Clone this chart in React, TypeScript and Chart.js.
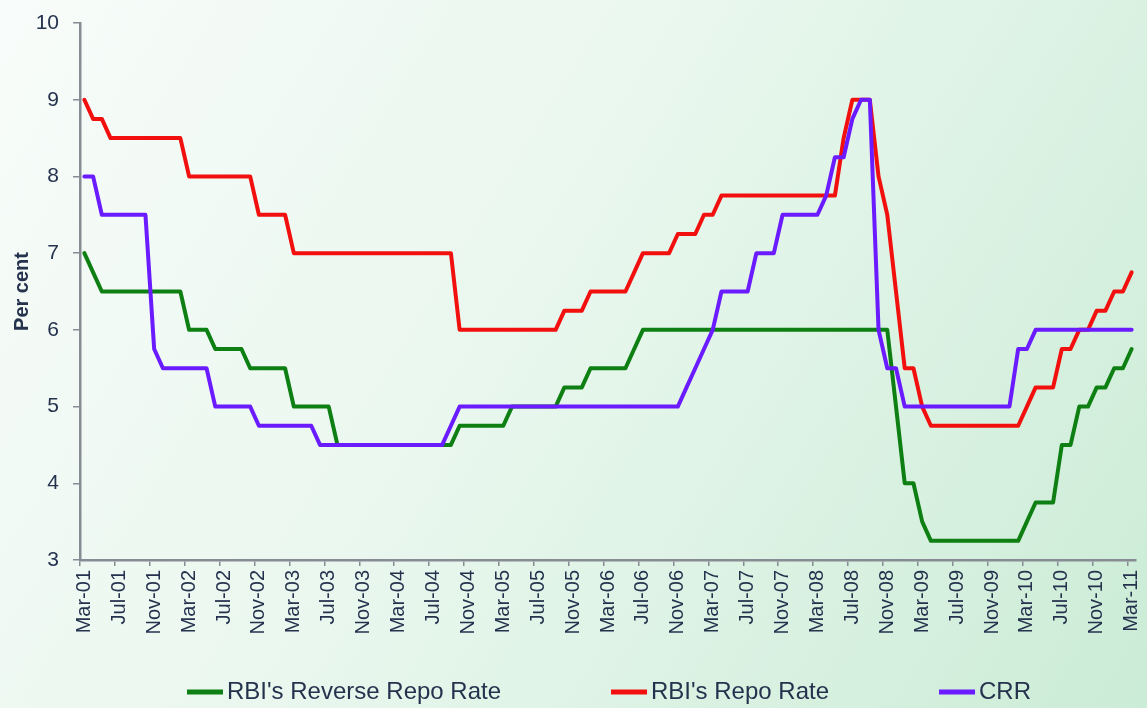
import { useEffect, useRef } from "react";
import { Chart, registerables } from "chart.js";

Chart.register(...registerables);

// Month categories, March 2001 to March 2011
const MONTHS = ["Mar", "Apr", "May", "Jun", "Jul", "Aug", "Sep", "Oct", "Nov", "Dec", "Jan", "Feb"];
const FIRST_YEAR = 2001;
const MONTH_COUNT = 121;
const LABELS: string[] = [];
for (let i = 0; i < MONTH_COUNT; i++) {
  const m = i % 12;
  const yr = FIRST_YEAR + Math.floor(i / 12) + (m >= 10 ? 1 : 0);
  LABELS.push(`${MONTHS[m]}-${String(yr % 100).padStart(2, "0")}`);
}

// Monthly policy rates, per cent (each row runs Mar..Feb)
const REVERSE_REPO = [
  7.0, 6.75, 6.5, 6.5, 6.5, 6.5, 6.5, 6.5, 6.5, 6.5, 6.5, 6.5,
  6.0, 6.0, 6.0, 5.75, 5.75, 5.75, 5.75, 5.5, 5.5, 5.5, 5.5, 5.5,
  5.0, 5.0, 5.0, 5.0, 5.0, 4.5, 4.5, 4.5, 4.5, 4.5, 4.5, 4.5,
  4.5, 4.5, 4.5, 4.5, 4.5, 4.5, 4.5, 4.75, 4.75, 4.75, 4.75, 4.75,
  4.75, 5.0, 5.0, 5.0, 5.0, 5.0, 5.0, 5.25, 5.25, 5.25, 5.5, 5.5,
  5.5, 5.5, 5.5, 5.75, 6.0, 6.0, 6.0, 6.0, 6.0, 6.0, 6.0, 6.0,
  6.0, 6.0, 6.0, 6.0, 6.0, 6.0, 6.0, 6.0, 6.0, 6.0, 6.0, 6.0,
  6.0, 6.0, 6.0, 6.0, 6.0, 6.0, 6.0, 6.0, 6.0, 5.0, 4.0, 4.0,
  3.5, 3.25, 3.25, 3.25, 3.25, 3.25, 3.25, 3.25, 3.25, 3.25, 3.25, 3.25,
  3.5, 3.75, 3.75, 3.75, 4.5, 4.5, 5.0, 5.0, 5.25, 5.25, 5.5, 5.5,
  5.75,
];

const REPO = [
  9.0, 8.75, 8.75, 8.5, 8.5, 8.5, 8.5, 8.5, 8.5, 8.5, 8.5, 8.5,
  8.0, 8.0, 8.0, 8.0, 8.0, 8.0, 8.0, 8.0, 7.5, 7.5, 7.5, 7.5,
  7.0, 7.0, 7.0, 7.0, 7.0, 7.0, 7.0, 7.0, 7.0, 7.0, 7.0, 7.0,
  7.0, 7.0, 7.0, 7.0, 7.0, 7.0, 7.0, 6.0, 6.0, 6.0, 6.0, 6.0,
  6.0, 6.0, 6.0, 6.0, 6.0, 6.0, 6.0, 6.25, 6.25, 6.25, 6.5, 6.5,
  6.5, 6.5, 6.5, 6.75, 7.0, 7.0, 7.0, 7.0, 7.25, 7.25, 7.25, 7.5,
  7.5, 7.75, 7.75, 7.75, 7.75, 7.75, 7.75, 7.75, 7.75, 7.75, 7.75, 7.75,
  7.75, 7.75, 7.75, 8.5, 9.0, 9.0, 9.0, 8.0, 7.5, 6.5, 5.5, 5.5,
  5.0, 4.75, 4.75, 4.75, 4.75, 4.75, 4.75, 4.75, 4.75, 4.75, 4.75, 4.75,
  5.0, 5.25, 5.25, 5.25, 5.75, 5.75, 6.0, 6.0, 6.25, 6.25, 6.5, 6.5,
  6.75,
];

const CRR = [
  8.0, 8.0, 7.5, 7.5, 7.5, 7.5, 7.5, 7.5, 5.75, 5.5, 5.5, 5.5,
  5.5, 5.5, 5.5, 5.0, 5.0, 5.0, 5.0, 5.0, 4.75, 4.75, 4.75, 4.75,
  4.75, 4.75, 4.75, 4.5, 4.5, 4.5, 4.5, 4.5, 4.5, 4.5, 4.5, 4.5,
  4.5, 4.5, 4.5, 4.5, 4.5, 4.5, 4.75, 5.0, 5.0, 5.0, 5.0, 5.0,
  5.0, 5.0, 5.0, 5.0, 5.0, 5.0, 5.0, 5.0, 5.0, 5.0, 5.0, 5.0,
  5.0, 5.0, 5.0, 5.0, 5.0, 5.0, 5.0, 5.0, 5.0, 5.25, 5.5, 5.75,
  6.0, 6.5, 6.5, 6.5, 6.5, 7.0, 7.0, 7.0, 7.5, 7.5, 7.5, 7.5,
  7.5, 7.75, 8.25, 8.25, 8.75, 9.0, 9.0, 6.0, 5.5, 5.5, 5.0, 5.0,
  5.0, 5.0, 5.0, 5.0, 5.0, 5.0, 5.0, 5.0, 5.0, 5.0, 5.0, 5.75,
  5.75, 6.0, 6.0, 6.0, 6.0, 6.0, 6.0, 6.0, 6.0, 6.0, 6.0, 6.0,
  6.0,
];

const SERIES_NAMES = ["RBI's Reverse Repo Rate", "RBI's Repo Rate", "CRR"];
const SERIES_COLORS = ["#0e7f12", "#f2100e", "#6a1bff"];

const Y_MIN = 3;
const Y_MAX = 10;
const LABEL_EVERY = 4;

const FONT = "'Liberation Sans', Arial, sans-serif";
const TEXT_COLOR = "#25324e";
const AXIS_COLOR = "#878b94";

// soft green wash behind the whole chart
const backdrop = {
  id: "backdrop",
  beforeDraw(chart: Chart) {
    const { ctx, width, height } = chart;
    const g = ctx.createLinearGradient(0, 0, width, height);
    g.addColorStop(0, "#f8fcfa");
    g.addColorStop(0.45, "#e9f7ee");
    g.addColorStop(1, "#cbecd6");
    ctx.save();
    ctx.fillStyle = g;
    ctx.fillRect(0, 0, width, height);
    ctx.restore();
  },
};

// single-row legend with short line swatches under the axis labels
const lineLegend = {
  id: "lineLegend",
  afterDraw(chart: Chart) {
    const { ctx } = chart;
    const y = 692;
    const swatch = 36;
    const textGap = 4;
    const itemGap = 110;
    let x = 187;
    ctx.save();
    ctx.font = `24px ${FONT}`;
    ctx.textBaseline = "middle";
    ctx.textAlign = "left";
    chart.data.datasets.forEach((ds: any) => {
      ctx.fillStyle = ds.borderColor;
      ctx.fillRect(x, y - 2.5, swatch, 5);
      ctx.fillStyle = TEXT_COLOR;
      const tx = x + swatch + textGap;
      ctx.fillText(ds.label, tx, y);
      x = tx + ctx.measureText(ds.label).width + itemGap;
    });
    ctx.restore();
  },
};

export default function App() {
  const canvasRef = useRef<HTMLCanvasElement | null>(null);

  useEffect(() => {
    const canvas = canvasRef.current;
    if (!canvas) return;
    const values = [REVERSE_REPO, REPO, CRR];
    const drawOrder = [3, 2, 1];
    const chart = new Chart(canvas, {
      type: "line",
      data: {
        labels: LABELS,
        datasets: SERIES_NAMES.map((name, k) => ({
          label: name,
          data: values[k],
          borderColor: SERIES_COLORS[k],
          backgroundColor: SERIES_COLORS[k],
          borderWidth: 4,
          pointRadius: 0,
          tension: 0,
          fill: false,
          borderJoinStyle: "round" as const,
          borderCapStyle: "round" as const,
          order: drawOrder[k],
        })),
      },
      options: {
        responsive: false,
        animation: false,
        devicePixelRatio: 1,
        layout: { padding: { top: 23, right: 11, bottom: 0, left: 0 } },
        plugins: {
          legend: { display: false },
          tooltip: { enabled: false },
        },
        scales: {
          x: {
            type: "category",
            offset: true,
            grid: {
              offset: true,
              drawOnChartArea: false,
              drawTicks: true,
              tickLength: 6,
              lineWidth: 1.5,
              tickColor: (c: any) =>
                typeof c.index === "number" && c.index % LABEL_EVERY === 0 ? AXIS_COLOR : "rgba(0,0,0,0)",
            },
            border: { display: true, color: AXIS_COLOR, width: 2.5 },
            ticks: {
              autoSkip: false,
              maxRotation: 90,
              minRotation: 90,
              padding: 4,
              color: TEXT_COLOR,
              font: { family: FONT, size: 20 },
              callback: (_v: any, i: number) => (i % LABEL_EVERY === 0 ? LABELS[i] : ""),
            },
            afterFit: (s: any) => {
              s.height = 148;
              s.paddingLeft = 0;
              s.paddingRight = 0;
            },
          },
          y: {
            min: Y_MIN,
            max: Y_MAX,
            ticks: {
              stepSize: 1,
              padding: 14,
              color: TEXT_COLOR,
              font: { family: FONT, size: 21 },
            },
            grid: {
              drawOnChartArea: false,
              drawTicks: true,
              tickLength: 7,
              lineWidth: 1.5,
              tickColor: AXIS_COLOR,
            },
            border: { display: true, color: AXIS_COLOR, width: 2.5 },
            title: {
              display: true,
              text: "Per cent",
              color: TEXT_COLOR,
              font: { family: FONT, size: 20, weight: "bold" },
              padding: { top: 10, bottom: 0 },
            },
            afterFit: (s: any) => {
              s.width = 80;
              s.paddingTop = 0;
              s.paddingBottom = 0;
            },
          },
        },
      },
      plugins: [backdrop, lineLegend],
    });
    return () => chart.destroy();
  }, []);

  return (
    <div style={{ position: "absolute", left: 0, top: 0, width: 1147, height: 708 }}>
      <canvas ref={canvasRef} width={1147} height={708} style={{ display: "block" }} />
    </div>
  );
}
